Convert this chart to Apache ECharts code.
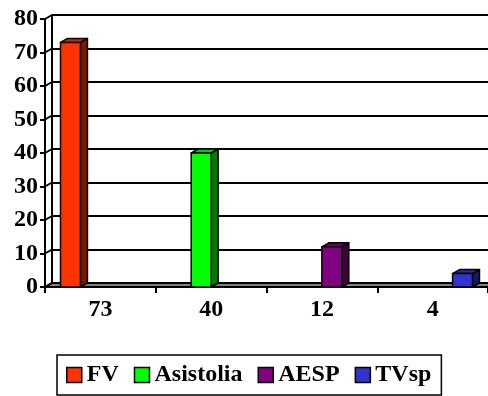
<!DOCTYPE html>
<html>
<head>
<meta charset="utf-8">
<script src="https://cdn.jsdelivr.net/npm/echarts@6/dist/echarts.min.js"></script>
<style>
  html, body { margin: 0; padding: 0; background: #fff; }
  #chart { width: 488px; height: 396px; }
</style>
</head>
<body>
<div id="chart"></div>
<script>
// Categories and values
const categories = ['73', '40', '12', '4'];
const seriesNames = ['FV', 'Asistolia', 'AESP', 'TVsp'];
const fvValues        = [73, null, null, null];
const asistoliaValues = [null, 40, null, null];
const aespValues      = [null, null, 12, null];
const tvspValues      = [null, null, null, 4];
const yTicks = [0, 10, 20, 30, 40, 50, 60, 70, 80];

// Face colours: front, top, side
const palette = [
  { front: '#FF3300', top: '#CC2900', side: '#7A1800' },
  { front: '#00FF00', top: '#00CC00', side: '#007A00' },
  { front: '#800080', top: '#660066', side: '#3D003D' },
  { front: '#3333CC', top: '#2929A3', side: '#18185E' }
];

// Depth offset of the pseudo-3D box
const DX = 7, DY = -4;
const FONT = "'Liberation Serif', 'Times New Roman', serif";

const chart = echarts.init(document.getElementById('chart'), null, { renderer: 'canvas' });

function barRender(seriesIdx) {
  return function (params, api) {
    const cat = api.value(0), val = api.value(1);
    if (val == null || isNaN(val)) return;
    const base = api.coord([cat, 0]);
    const topP = api.coord([cat, val]);
    const band = api.size([1, 0])[0];
    const bw = band * 0.18;
    const x0 = base[0] - 2 * bw + seriesIdx * bw;
    const x1 = x0 + bw;
    const y0 = base[1], y1 = topP[1];
    const c = palette[seriesIdx];
    const stroke = { stroke: '#000', lineWidth: 1.5, lineJoin: 'round' };
    return {
      type: 'group',
      children: [
        { type: 'polygon', shape: { points: [[x1, y1], [x1 + DX, y1 + DY], [x1 + DX, y0 + DY], [x1, y0]] },
          style: Object.assign({ fill: c.side }, stroke) },
        { type: 'polygon', shape: { points: [[x0, y1], [x0 + DX, y1 + DY], [x1 + DX, y1 + DY], [x1, y1]] },
          style: Object.assign({ fill: c.top }, stroke) },
        { type: 'rect', shape: { x: x0, y: y1, width: bw, height: y0 - y1 },
          style: Object.assign({ fill: c.front }, stroke) }
      ]
    };
  };
}

function frameRender(params, api) {
  const cs = params.coordSys;
  const left = cs.x, right = cs.x + cs.width;
  const y0 = api.coord([0, 0])[1];
  const children = [];
  // floor slab
  children.push({
    type: 'polygon',
    shape: { points: [[left, y0], [left + DX, y0 + DY], [right + DX, y0 + DY], [right, y0]] },
    style: { fill: '#808080', stroke: '#000', lineWidth: 2 }
  });
  // side wall connectors
  yTicks.forEach(function (t) {
    const y = api.coord([0, t])[1];
    children.push({
      type: 'line',
      shape: { x1: left, y1: y, x2: left + DX, y2: y + DY },
      style: { stroke: '#000', lineWidth: 2 }
    });
  });
  return { type: 'group', children: children };
}

const seriesData = [fvValues, asistoliaValues, aespValues, tvspValues];

const series = [
  {
    type: 'custom',
    name: '__frame',
    xAxisIndex: 1, yAxisIndex: 1,
    renderItem: frameRender,
    data: [[0, 0]],
    silent: true,
    z: 1
  }
];
seriesData.forEach(function (vals, i) {
  series.push({
    type: 'custom',
    name: seriesNames[i],
    xAxisIndex: 1, yAxisIndex: 1,
    renderItem: barRender(i),
    itemStyle: { color: palette[i].front },
    data: vals.map(function (v, k) { return [k, v]; }),
    z: 3
  });
});

const option = {
  backgroundColor: '#fff',
  animation: false,
  grid: [
    // back wall
    { left: 45 + DX, top: 19 + DY, width: 445, height: 268 },
    // front plane
    { left: 45, top: 19, width: 445, height: 268 }
  ],
  xAxis: [
    { gridIndex: 0, type: 'category', data: categories, show: false },
    {
      gridIndex: 1, type: 'category', data: categories, boundaryGap: true,
      axisLine: { show: false },
      axisTick: { show: true, length: 6, inside: false, lineStyle: { color: '#000', width: 2 } },
      axisLabel: { color: '#000', fontFamily: FONT, fontWeight: 'bold', fontSize: 24, margin: 11 },
      splitLine: { show: false }
    }
  ],
  yAxis: [
    {
      gridIndex: 0, type: 'value', min: 0, max: 80, interval: 10,
      axisLine: { show: true, lineStyle: { color: '#000', width: 2 } },
      axisTick: { show: false },
      axisLabel: { show: false },
      splitLine: { show: true, lineStyle: { color: '#000', width: 2 } }
    },
    {
      gridIndex: 1, type: 'value', min: 0, max: 80, interval: 10,
      axisLine: { show: true, lineStyle: { color: '#000', width: 2 } },
      axisTick: { show: true, length: 5, lineStyle: { color: '#000', width: 2 } },
      axisLabel: { color: '#000', fontFamily: FONT, fontWeight: 'bold', fontSize: 24, margin: 7 },
      splitLine: { show: false }
    }
  ],
  legend: {
    data: seriesNames,
    left: 57, top: 355,
    orient: 'horizontal',
    icon: 'rect',
    itemWidth: 15, itemHeight: 15, itemGap: 15,
    padding: [8, 10, 8, 9],
    borderColor: '#000', borderWidth: 1.5,
    itemStyle: { borderColor: '#000', borderWidth: 1.5 },
    textStyle: { color: '#000', fontFamily: FONT, fontWeight: 'bold', fontSize: 24 }
  },
  series: series
};

chart.setOption(option);
</script>
</body>
</html>
